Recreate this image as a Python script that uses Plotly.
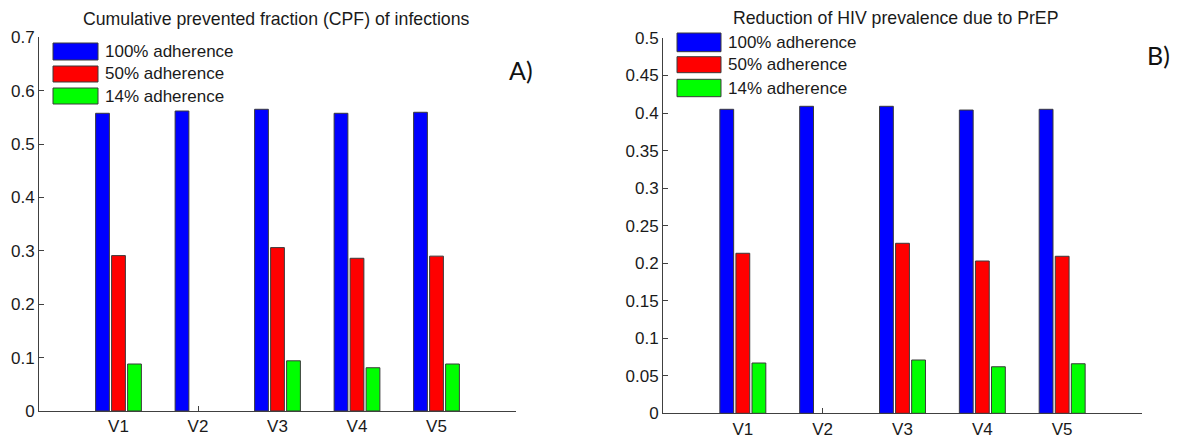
import plotly.graph_objects as go

# ---- data ----
categories = ["V1", "V2", "V3", "V4", "V5"]
series_names = ["100% adherence", "50% adherence", "14% adherence"]
series_colors = ["#0000FF", "#FF0000", "#00FF00"]

cpf_100 = [0.5575, 0.5618, 0.565, 0.5575, 0.5594]
cpf_50 = [0.291, None, 0.306, 0.286, 0.290]
cpf_14 = [0.088, None, 0.094, 0.081, 0.088]

prev_100 = [0.405, 0.409, 0.409, 0.404, 0.405]
prev_50 = [0.2132, None, 0.2265, 0.2029, 0.2092]
prev_14 = [0.067, None, 0.071, 0.062, 0.066]

title_a = "Cumulative prevented fraction (CPF) of infections"
title_b = "Reduction of HIV prevalence due to PrEP"
panel_labels = ["A)", "B)"]

W, H = 1182, 438
FONT = "Liberation Sans, Arial, sans-serif"
AXC = "#404040"
TXT = "#1a1a1a"


def px(x):
    return x / W


def py(y):
    return 1 - y / H


fig = go.Figure()

for vals, name, col in zip([cpf_100, cpf_50, cpf_14], series_names, series_colors):
    fig.add_trace(go.Bar(x=categories, y=vals, name=name, marker_color=col,
                         marker_line=dict(color="#3a3a3a", width=1),
                         xaxis="x", yaxis="y", showlegend=False, offsetgroup=name))
for vals, name, col in zip([prev_100, prev_50, prev_14], series_names, series_colors):
    fig.add_trace(go.Bar(x=categories, y=vals, name=name, marker_color=col,
                         marker_line=dict(color="#3a3a3a", width=1),
                         xaxis="x2", yaxis="y2", showlegend=False, offsetgroup=name))

common_x = dict(type="category", range=[-1, 5], showline=True, linecolor=AXC, linewidth=1,
                ticks="inside", ticklen=5, tickcolor=AXC, showgrid=False, zeroline=False,
                tickfont=dict(family=FONT, size=17, color=TXT), layer="below traces",
                automargin=False)
common_y = dict(showline=True, linecolor=AXC, linewidth=1, ticks="inside", ticklen=5,
                tickcolor=AXC, showgrid=False, zeroline=False,
                tickfont=dict(family=FONT, size=17, color=TXT), layer="below traces",
                automargin=False, tickmode="linear", tick0=0)

fig.update_layout(
    width=W, height=H,
    margin=dict(l=0, r=0, t=0, b=0),
    paper_bgcolor="white", plot_bgcolor="white",
    barmode="group", bargap=0.396, bargroupgap=0.14,
    xaxis=dict(common_x, domain=[px(39), px(516)], anchor="y"),
    yaxis=dict(common_y, domain=[py(411), py(37.2)], range=[0, 0.7], dtick=0.1, anchor="x"),
    xaxis2=dict(common_x, domain=[px(663), px(1142)], anchor="y2"),
    yaxis2=dict(common_y, domain=[py(413.3), py(38)], range=[0, 0.5], dtick=0.05, anchor="x2"),
)

annotations = []
shapes = []

# titles
annotations.append(dict(text=title_a, x=px(276), y=py(19), xref="paper", yref="paper",
                        showarrow=False, xanchor="center", yanchor="middle",
                        font=dict(family=FONT, size=17.7, color=TXT)))
annotations.append(dict(text=title_b, x=px(895), y=py(18), xref="paper", yref="paper",
                        showarrow=False, xanchor="center", yanchor="middle",
                        font=dict(family=FONT, size=17.7, color=TXT)))
# panel labels
annotations.append(dict(text=panel_labels[0], x=px(521), y=py(70), xref="paper", yref="paper",
                        showarrow=False, xanchor="center", yanchor="middle",
                        font=dict(family="Lato, Open Sans, sans-serif", size=25, color="#111")))
annotations.append(dict(text=panel_labels[1], x=px(1158), y=py(55), xref="paper", yref="paper",
                        showarrow=False, xanchor="center", yanchor="middle",
                        font=dict(family="Lato, Open Sans, sans-serif", size=25, color="#111")))

# custom legends (large patches like the original)
legend_specs = [
    dict(x0=53, x1=98, tx=103, rows=[(43, 60), (66, 82), (88, 104)]),
    dict(x0=677, x1=721, tx=726, rows=[(33, 51.7), (56.7, 72.7), (79.3, 96.7)]),
]
for spec in legend_specs:
    for (y0, y1), name, col in zip(spec["rows"], series_names, series_colors):
        shapes.append(dict(type="rect", xref="paper", yref="paper",
                           x0=px(spec["x0"]), x1=px(spec["x1"]), y0=py(y1), y1=py(y0),
                           fillcolor=col, line=dict(color="#3a3a3a", width=1)))
        annotations.append(dict(text=name, x=px(spec["tx"]), y=py((y0 + y1) / 2),
                                xref="paper", yref="paper", showarrow=False,
                                xanchor="left", yanchor="middle",
                                font=dict(family=FONT, size=17, color=TXT)))

fig.update_layout(annotations=annotations, shapes=shapes)

fig.write_html("out.html")
